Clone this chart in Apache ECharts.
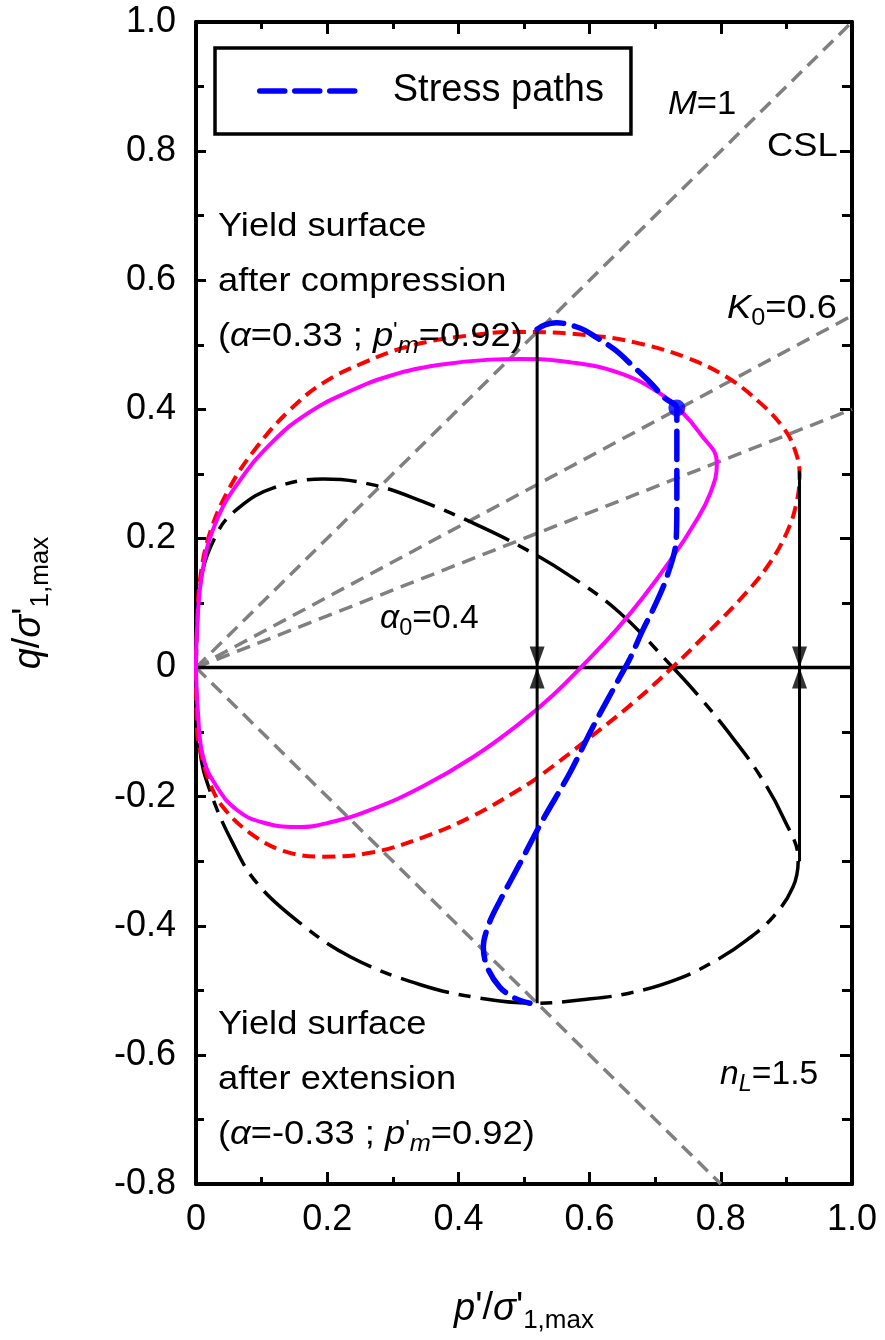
<!DOCTYPE html>
<html>
<head>
<meta charset="utf-8">
<script src="https://cdn.jsdelivr.net/npm/echarts@6/dist/echarts.min.js"></script>
<style>html,body{margin:0;padding:0;background:#fff;}#c{width:885px;height:1340px;}</style>
</head>
<body>
<div id="c"></div>
<script>
// ---- data ----
const xTicks = [0, 0.2, 0.4, 0.6, 0.8, 1.0];
const yTicks = [-0.8, -0.6, -0.4, -0.2, 0, 0.2, 0.4, 0.6, 0.8, 1.0];

// yield surface after compression (red dashed)
const compressionSurface = [
  [0,0],[0.0015,-0.097],[0.009,-0.139],[0.021,-0.179],[0.041,-0.216],[0.082,-0.256],[0.133,-0.284],
  [0.194,-0.293],[0.270,-0.286],[0.346,-0.263],[0.422,-0.230],[0.494,-0.188],[0.524,-0.168],
  [0.596,-0.112],[0.666,-0.055],[0.727,0.001],[0.784,0.058],[0.829,0.105],[0.870,0.155],
  [0.901,0.210],[0.916,0.258],[0.920,0.300],[0.912,0.340],[0.895,0.372],[0.860,0.410],[0.809,0.450],
  [0.748,0.480],[0.672,0.503],[0.596,0.515],[0.494,0.520],[0.398,0.512],[0.322,0.497],
  [0.255,0.472],[0.194,0.441],[0.143,0.399],[0.093,0.342],[0.052,0.280],[0.021,0.208],
  [0.006,0.136],[0.002,0.074],[0,0]
];
// current yield surface (magenta solid)
const currentSurface = [
  [0,0],[0.003,-0.070],[0.011,-0.139],[0.032,-0.185],[0.063,-0.221],[0.102,-0.240],[0.154,-0.247],
  [0.204,-0.240],[0.270,-0.219],[0.346,-0.184],[0.422,-0.139],[0.494,-0.086],[0.544,-0.043],
  [0.596,0.010],[0.642,0.060],[0.681,0.108],[0.723,0.166],[0.758,0.220],[0.784,0.270],
  [0.794,0.317],[0.768,0.363],[0.738,0.399],[0.707,0.425],[0.646,0.456],[0.570,0.473],
  [0.494,0.478],[0.448,0.477],[0.372,0.469],[0.296,0.452],[0.230,0.426],[0.169,0.393],
  [0.117,0.350],[0.067,0.290],[0.032,0.229],[0.011,0.156],[0.0015,0.058],[0,0]
];
// yield surface after extension (black dash-dot)
const extensionSurface = [
  [0,0],[0.006,0.125],[0.032,0.208],[0.067,0.249],[0.117,0.278],[0.194,0.292],[0.270,0.283],
  [0.346,0.257],[0.422,0.224],[0.494,0.188],[0.570,0.142],[0.646,0.085],[0.727,0.000],
  [0.773,-0.052],[0.819,-0.110],[0.860,-0.168],[0.895,-0.232],[0.918,-0.298],[0.910,-0.340],
  [0.880,-0.386],[0.840,-0.422],[0.799,-0.450],[0.738,-0.481],[0.662,-0.504],[0.585,-0.515],
  [0.520,-0.520],[0.433,-0.512],[0.341,-0.491],[0.235,-0.448],[0.159,-0.396],[0.093,-0.334],
  [0.056,-0.272],[0.021,-0.190],[0.006,-0.128],[0,0]
];
// stress paths (blue dashed)
const stressPaths = [
  [0.520,0.524],[0.532,0.531],[0.550,0.534],[0.585,0.526],[0.611,0.511],[0.639,0.492],
  [0.666,0.467],[0.692,0.442],[0.715,0.417],[0.733,0.402],[0.733,0.337],[0.733,0.259],
  [0.732,0.198],[0.718,0.141],[0.700,0.097],[0.681,0.058],[0.662,0.015],[0.646,-0.015],
  [0.605,-0.092],[0.570,-0.163],[0.527,-0.239],[0.494,-0.303],[0.463,-0.362],[0.447,-0.396],
  [0.438,-0.433],[0.444,-0.464],[0.463,-0.495],[0.486,-0.512],[0.509,-0.520]
];
const initialState = [[0.733, 0.402]];
// reference lines from origin
const cslCompression = [[0,0],[1,1]];
const k0Line = [[0,0],[1,0.545]];
const alpha0Line = [[0,0],[1,0.40]];
const cslExtension = [[0,0],[0.8,-0.8]];
const zeroLine = [[0,0],[1,0]];
// vertical arrows
const arrowP = [0.52, 0.92];
const arrowTopQ = [0.525, 0.305];
const arrowBottomQ = [-0.52, -0.30];

// ---- chart ----
const chart = echarts.init(document.getElementById('c'), null, {renderer: 'canvas'});
const FONT = 'Liberation Sans';
const gray = '#808080';

function refLine(data) {
  return {type: 'line', data: data, showSymbol: false, symbol: 'none', silent: true, z: 2,
    lineStyle: {color: gray, width: 3.5, type: [14, 8]}};
}

const series = [
  refLine(cslCompression), refLine(k0Line), refLine(alpha0Line), refLine(cslExtension),
  {type: 'line', data: zeroLine, symbol: 'none', silent: true, z: 3, lineStyle: {color: '#000', width: 3.5}},
  {type: 'line', data: extensionSurface, symbol: 'none', smooth: 0.4, z: 4,
    lineStyle: {color: '#000', width: 3.5, type: [50, 10, 12, 10]}},
  {type: 'line', data: compressionSurface, symbol: 'none', smooth: 0.4, z: 4,
    lineStyle: {color: '#ff0000', width: 4, type: [13, 7]}},
  {type: 'line', data: currentSurface, symbol: 'none', smooth: 0.45, z: 5,
    lineStyle: {color: '#ff00ff', width: 4}}
];
arrowP.forEach(function (p, i) {
  series.push({type: 'line', data: [[p, arrowTopQ[i]], [p, 0]], symbol: 'none', z: 6,
    lineStyle: {color: '#000', width: 3}});
  series.push({type: 'line', data: [[p, arrowBottomQ[i]], [p, 0]], symbol: 'none', z: 6,
    lineStyle: {color: '#000', width: 3}});
  series.push({type: 'scatter', data: [[p, 0]], symbol: 'triangle', symbolSize: [15, 21],
    symbolRotate: 180, symbolOffset: [0, -10.5], z: 7, itemStyle: {color: '#000'}});
  series.push({type: 'scatter', data: [[p, 0]], symbol: 'triangle', symbolSize: [15, 21],
    symbolOffset: [0, 10.5], z: 7, itemStyle: {color: '#000'}});
});
series.push({name: 'Stress paths', type: 'line', data: stressPaths, symbol: 'none', smooth: 0.35, z: 8,
  itemStyle: {color: '#0000ff'},
  lineStyle: {color: '#0000ff', width: 5.5, type: [28, 11], cap: 'round'}});
series.push({type: 'scatter', data: initialState, symbol: 'circle', symbolSize: 17, z: 9,
  itemStyle: {color: '#0000ff'}});

const axisLineStyle = {color: '#000', width: 4};
const tickStyle = {color: '#000', width: 3};

const richName = {
  i: {fontFamily: FONT, fontStyle: 'italic', fontSize: 38, color: '#000'},
  n: {fontFamily: FONT, fontSize: 38, color: '#000'},
  s: {fontFamily: FONT, fontSize: 26, color: '#000', padding: [24, 0, 0, 0]}
};

const option = {
  animation: false,
  backgroundColor: '#fff',
  grid: {left: 196, right: 33, top: 22, bottom: 156, containLabel: false},
  legend: {
    show: true, data: ['Stress paths'], left: 215, top: 48,
    orient: 'horizontal', itemWidth: 105, itemHeight: 20,
    padding: [24, 27, 24, 42], borderColor: '#000', borderWidth: 3.5,
    textStyle: {fontFamily: FONT, fontSize: 38, color: '#000', padding: [0, 0, 0, 23]},
    itemStyle: {opacity: 0},
    lineStyle: {type: [25, 10], width: 5.5, color: '#0000ff', cap: 'round'}
  },
  xAxis: [
    {type: 'value', min: 0, max: 1, interval: 0.2, position: 'bottom',
      axisLine: {show: true, onZero: false, lineStyle: axisLineStyle},
      axisTick: {show: true, inside: true, length: 12, lineStyle: tickStyle},
      minorTick: {show: true, splitNumber: 2, length: 7, lineStyle: tickStyle},
      splitLine: {show: false},
      axisLabel: {fontFamily: FONT, fontSize: 36, color: '#000', margin: 18,
        formatter: function (v) { return v === 0 ? '0' : (v === 1 ? '1.0' : v.toFixed(1)); }},
      name: '{i|p}{n|\'/}{i|σ}{n|\'}{s|1,max}', nameLocation: 'middle', nameGap: 100,
      nameTextStyle: {rich: richName}},
    {type: 'value', min: 0, max: 1, interval: 0.2, position: 'top',
      axisLine: {show: true, onZero: false, lineStyle: axisLineStyle},
      axisTick: {show: true, inside: true, length: 12, lineStyle: tickStyle},
      minorTick: {show: true, splitNumber: 2, length: 7, lineStyle: tickStyle},
      splitLine: {show: false}, axisLabel: {show: false}}
  ],
  yAxis: [
    {type: 'value', min: -0.8, max: 1.0, interval: 0.2, position: 'left',
      axisLine: {show: true, onZero: false, lineStyle: axisLineStyle},
      axisTick: {show: true, inside: true, length: 10, lineStyle: tickStyle},
      minorTick: {show: true, splitNumber: 2, length: 8, lineStyle: tickStyle},
      splitLine: {show: false},
      axisLabel: {fontFamily: FONT, fontSize: 36, color: '#000', margin: 20,
        formatter: function (v) { return Math.abs(v) < 1e-9 ? '0' : v.toFixed(1); }},
      name: '{i|q}{n|/}{i|σ}{n|\'}{s|1,max}', nameLocation: 'middle', nameGap: 142, nameRotate: 90,
      nameTextStyle: {rich: richName}},
    {type: 'value', min: -0.8, max: 1.0, interval: 0.2, position: 'right',
      axisLine: {show: true, onZero: false, lineStyle: axisLineStyle},
      axisTick: {show: true, inside: true, length: 12, lineStyle: tickStyle},
      minorTick: {show: true, splitNumber: 2, length: 10, lineStyle: tickStyle},
      splitLine: {show: false}, axisLabel: {show: false}}
  ],
  series: series
};

// ---- annotations ----
const rt = {
  n: {fontFamily: FONT, fontSize: 33, fill: '#000'},
  i: {fontFamily: FONT, fontSize: 33, fontStyle: 'italic', fill: '#000'},
  s: {fontFamily: FONT, fontSize: 23, fill: '#000', padding: [20, 0, 0, 0]},
  si: {fontFamily: FONT, fontSize: 23, fontStyle: 'italic', fill: '#000', padding: [20, 0, 0, 0]},
  p: {fontFamily: FONT, fontSize: 22, fill: '#000', padding: [0, 0, 12, 0]}
};
function txt(x, y, text, sx) {
  return {type: 'text', left: x, top: y, z: 20, scaleX: sx || 1.1,
    style: {text: text, rich: rt, font: '33px ' + FONT, fill: '#000'}};
}
option.graphic = [
  txt(668, 88, '{i|M}{n|=1}', 1.05),
  txt(767, 130, '{n|CSL}'),
  txt(218, 210, '{n|Yield surface}'),
  txt(218, 265, '{n|after compression}'),
  txt(218, 320, '{n|(}{i|α}{n|=0.33 ; }{i|p}{p|\'}{si|m}{n|=0.92)}'),
  txt(727, 292, '{i|K}{s|0}{n|=0.6}'),
  txt(380, 602, '{i|α}{s|0}{n|=0.4}', 1.02),
  txt(218, 1008, '{n|Yield surface}'),
  txt(218, 1063, '{n|after extension}'),
  txt(218, 1118, '{n|(}{i|α}{n|=-0.33 ; }{i|p}{p|\'}{si|m}{n|=0.92)}'),
  txt(720, 1058, '{i|n}{si|L}{n|=1.5}', 1.02)
];

chart.setOption(option);
</script>
</body>
</html>
